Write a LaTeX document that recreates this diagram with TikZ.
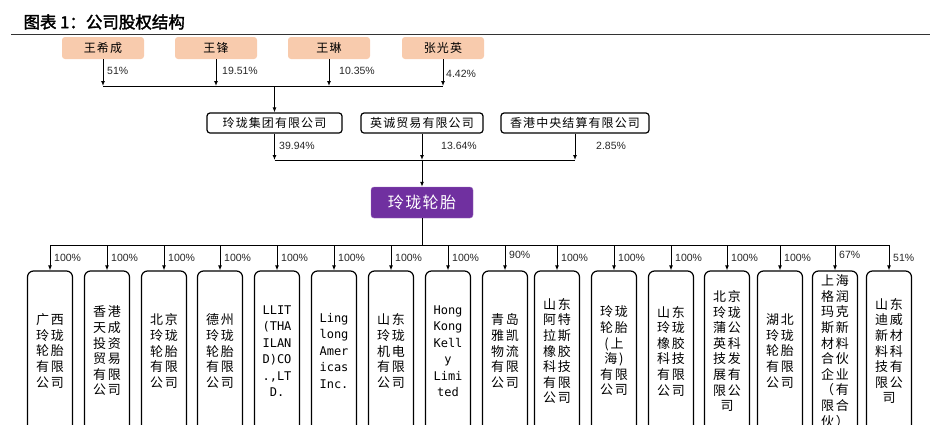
\documentclass[tikz,border=0pt]{standalone}
\usepackage{fontspec}
\setmainfont{Liberation Sans}
\newfontfamily\cjk[AutoFakeBold=2]{Noto Sans CJK SC}
\newfontfamily\cjkwide[LetterSpace=14]{Noto Sans CJK SC}
\newfontfamily\cjkmid[LetterSpace=9]{Noto Sans CJK SC}
\newfontfamily\latn{DejaVu Sans Mono}
\usetikzlibrary{arrows.meta}
\definecolor{peach}{HTML}{F8CBAD}
\definecolor{llpurple}{HTML}{7030A0}
\tikzset{
  holder/.style  = {fill=peach, rounded corners=3pt,
                    minimum width=82pt, minimum height=22pt,
                    font=\cjkmid\fontsize{12}{14}\selectfont},
  corp/.style    = {draw, line width=1.2pt, rounded corners=3pt,
                    minimum height=20pt, inner sep=2pt,
                    font=\cjkmid\fontsize{12}{14}\selectfont},
  lltire/.style  = {fill=llpurple, draw=llpurple!70, rounded corners=3pt,
                    minimum width=102pt, minimum height=31pt, text=white,
                    font=\cjkmid\fontsize{16}{18}\selectfont},
  subco/.style   = {draw, line width=1.2pt, rounded corners=6pt,
                    minimum width=45pt, minimum height=160pt, inner sep=2pt,
                    text width=41pt, align=center},
  zh/.style      = {font=\cjkwide\fontsize{13}{15.6}\selectfont},
  en/.style      = {font=\latn\fontsize{12}{16.5}\selectfont},
  pct/.style     = {anchor=west, inner sep=0pt, text=black!85,
                    font=\fontsize{10.5}{12}\selectfont},
  share/.style   = {line width=1pt, -{Latex[length=5pt,width=4pt]}},
  bus/.style     = {line width=1pt}
}
\begin{document}
\begin{tikzpicture}[x=1pt,y=-1pt]
  \clip (0,0) rectangle (930,424);
  \node[anchor=west, font=\cjk\bfseries\fontsize{16.5}{18}\selectfont] (title)
    at (20,22) {图表 1：公司股权结构};
  \draw[line width=0.8pt, black!80] (11,34) -- (930,34);

  % holders
  \node[holder] (wxc) at (103,48) {王希成};
  \node[holder] (wf)  at (216,48) {王锋};
  \node[holder] (wl)  at (329,48) {王琳};
  \node[holder] (zgy) at (443,48) {张光英};
  \coordinate (top bus) at (275,86);
  \foreach \n in {wxc,wf,wl,zgy}
    \draw[share] (\n) -- (\n |- top bus);
  \draw[bus] (wxc |- top bus) -- (zgy |- top bus);
  \node[pct] (p51)   at (107,71) {51\%};
  \node[pct] (p1951) at (222,71) {19.51\%};
  \node[pct] (p1035) at (339,71) {10.35\%};
  \node[pct] (p442)  at (446,74) {4.42\%};

  % shareholders
  \node[corp, minimum width=135pt] (llgroup) at (274.5,123) {玲珑集团有限公司};
  \node[corp, minimum width=122pt] (yc)      at (422,123)   {英诚贸易有限公司};
  \node[corp, minimum width=148pt] (hkc)     at (575,123)   {香港中央结算有限公司};
  \draw[share] (llgroup |- top bus) -- (llgroup.north);
  \coordinate (mid bus) at (422,160);
  \foreach \n in {llgroup,yc,hkc}
    \draw[share] (\n) -- (\n |- mid bus);
  \draw[bus] (llgroup |- mid bus) -- (hkc |- mid bus);
  \node[pct] (p3994) at (279,146) {39.94\%};
  \node[pct] (p1364) at (441,146) {13.64\%};
  \node[pct] (p285)  at (596,146) {2.85\%};

  \node[lltire] (ll) at (422,202.5) {玲珑轮胎};
  \draw[share] (ll |- mid bus) -- (ll);

  % subsidiaries
  \coordinate (sub bus) at (422,245);
  \draw[bus] (ll) -- (ll |- sub bus);
  \foreach \x/\f/\t/\p/\py [count=\i] in {
      50/zh/{广西\\玲珑\\轮胎\\有限\\公司}/100/258,
      107/zh/{香港\\天成\\投资\\贸易\\有限\\公司}/100/258,
      164/zh/{北京\\玲珑\\轮胎\\有限\\公司}/100/258,
      220/zh/{德州\\玲珑\\轮胎\\有限\\公司}/100/258,
      277/en/{LLIT\\(THA\\ILAN\\D)CO\\.,LT\\D.}/100/258,
      334/en/{Ling\\long\\Amer\\icas\\Inc.}/100/258,
      391/zh/{山东\\玲珑\\机电\\有限\\公司}/100/258,
      448/en/{Hong\\Kong\\Kell\\y\\Limi\\ted}/100/258,
      505/zh/{青岛\\雅凯\\物流\\有限\\公司}/90/255,
      557/zh/{山东\\阿特\\拉斯\\橡胶\\科技\\有限\\公司}/100/258,
      614/zh/{玲珑\\轮胎\\(上\\海)\\有限\\公司}/100/258,
      671/zh/{山东\\玲珑\\橡胶\\科技\\有限\\公司}/100/258,
      727/zh/{北京\\玲珑\\蒲公\\英科\\技发\\展有\\限公\\司}/100/258,
      780/zh/{湖北\\玲珑\\轮胎\\有限\\公司}/100/258,
      835/zh/{上海\\格润\\玛克\\斯新\\材料\\合伙\\企业\\（有\\限合\\伙）}/67/255,
      889/zh/{山东\\迪威\\新材\\料科\\技有\\限公\\司}/51/258}
  {
    \node[subco,\f] (s\i) at (\x,351) {\t};
    \draw[share] (s\i |- sub bus) -- (s\i.north);
    \node[pct] (q\i) at (\x+4,\py) {\p\%};
  }
  \draw[bus] (s1 |- sub bus) -- (s16 |- sub bus);
\end{tikzpicture}
\end{document}
